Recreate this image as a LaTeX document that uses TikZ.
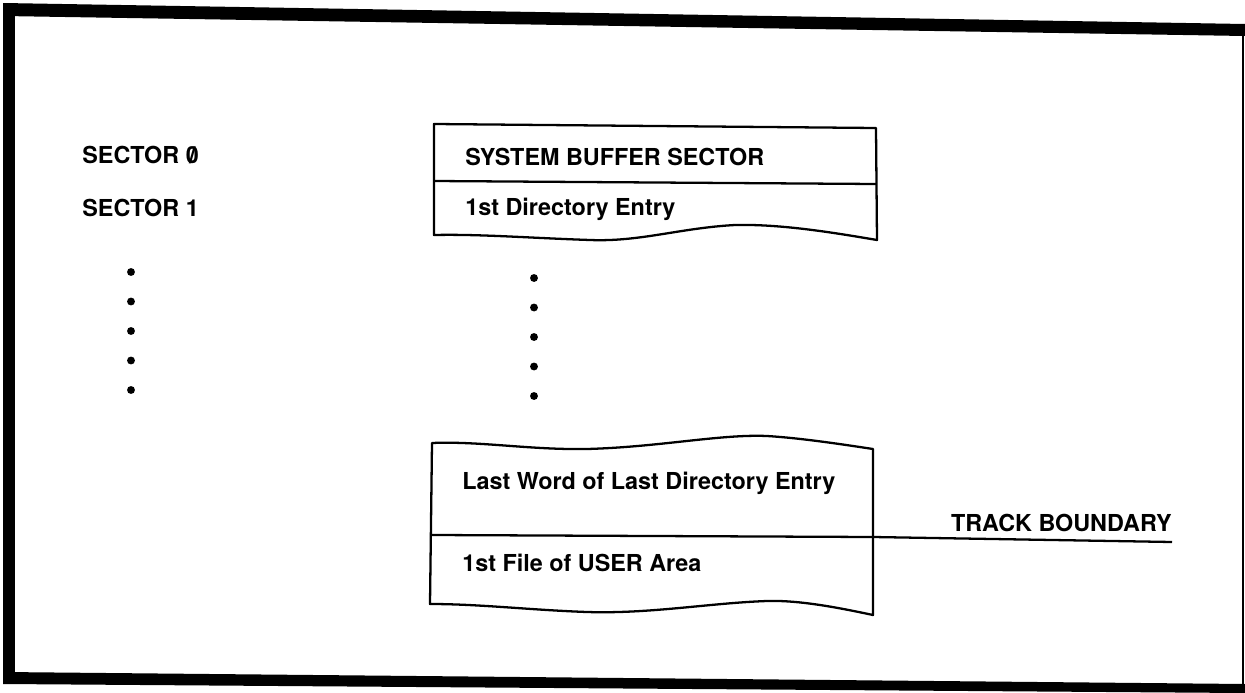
\documentclass[tikz,border=0pt]{standalone}
\usepackage{fontspec}
\setmainfont{TeX Gyre Heros}
\usetikzlibrary{positioning}

% zero barrato come sul tabulato
\newcommand{\slzero}{\ooalign{0\cr\hidewidth/\hidewidth}}

\begin{document}
\begin{tikzpicture}[x=0.02cm, y=-0.02cm,
		lbl/.style={font=\bfseries\fontsize{13.3}{15}\selectfont, inner sep=0pt, anchor=west},
		box/.style={line width=1.3pt, line join=round},
		dot/.style={circle, fill, inner sep=0pt, minimum size=4.5pt}]
		% Area del disegno (in pixel dell'originale)
		\useasboundingbox (0,0) rectangle (1245,693);
		
		% --- Cornice ---
		\fill (3,3) -- (1245,24) -- (1245,36) -- (3,16) -- cycle;
		\fill (3,3) rectangle (15,684);
		\fill (3,672) -- (1245,684) -- (1245,693) -- (3,684) -- cycle;
		\draw[line width=0.8pt] (1243,30) -- (1243,690);
		
		% --- Etichette dei settori ---
		\node[lbl] (sec0) at (82,155) {SECTOR \slzero};
		\node[lbl] (sec1) at (82,208) {SECTOR 1};
		
		% --- Blocco superiore ---
		\draw[box] (434,235) -- (434,124) -- (876,128) -- (877,240)
			.. controls (830,232) and (780,224) .. (735,225)
			.. controls (680,228) and (640,242) .. (590,240)
			.. controls (530,238) and (480,234) .. cycle;
		\coordinate (divAl) at (434,181);
		\coordinate (divAr) at (876,184);
		\draw[box] (divAl) -- (divAr);
		\node[lbl] (sysbuf) at (465,157) {SYSTEM BUFFER SECTOR};
		\node[lbl] (dir1) at (465,209) {1st Directory Entry};
		
		% --- Puntini ---
		\foreach \i in {0,...,4} {
			\node[dot] (dl\i) at (131,272+29.5*\i) {};
			\node[dot] (dm\i) at (534,278+29.5*\i) {};
		}
		
		% --- Blocco inferiore ---
		\draw[box] (432,443)
			.. controls (480,441) and (530,450) .. (587,449)
			.. controls (660,447) and (720,434) .. (767,436)
			.. controls (800,438) and (840,444) .. (873,449)
			-- (873,615)
			.. controls (840,608) and (800,600) .. (767,601)
			.. controls (710,603) and (650,614) .. (587,612)
			.. controls (530,610) and (480,604) .. (430,604)
			-- cycle;
		\coordinate (divBl) at (432,535);
		\coordinate (divBr) at (873,537);
		\draw[box] (divBl) -- (divBr);
		\node[lbl] (lastw) at (462,483) {Last Word of Last Directory Entry};
		\node[lbl] (user1) at (462,563) {1st File of USER Area};
		
		% --- Confine di traccia ---
		\node[lbl, anchor=south east] (track) at (1172,532) {TRACK BOUNDARY};
		\draw[box] (divBr) -- (track.south east |- 0,542);
	\end{tikzpicture}
\end{document}
